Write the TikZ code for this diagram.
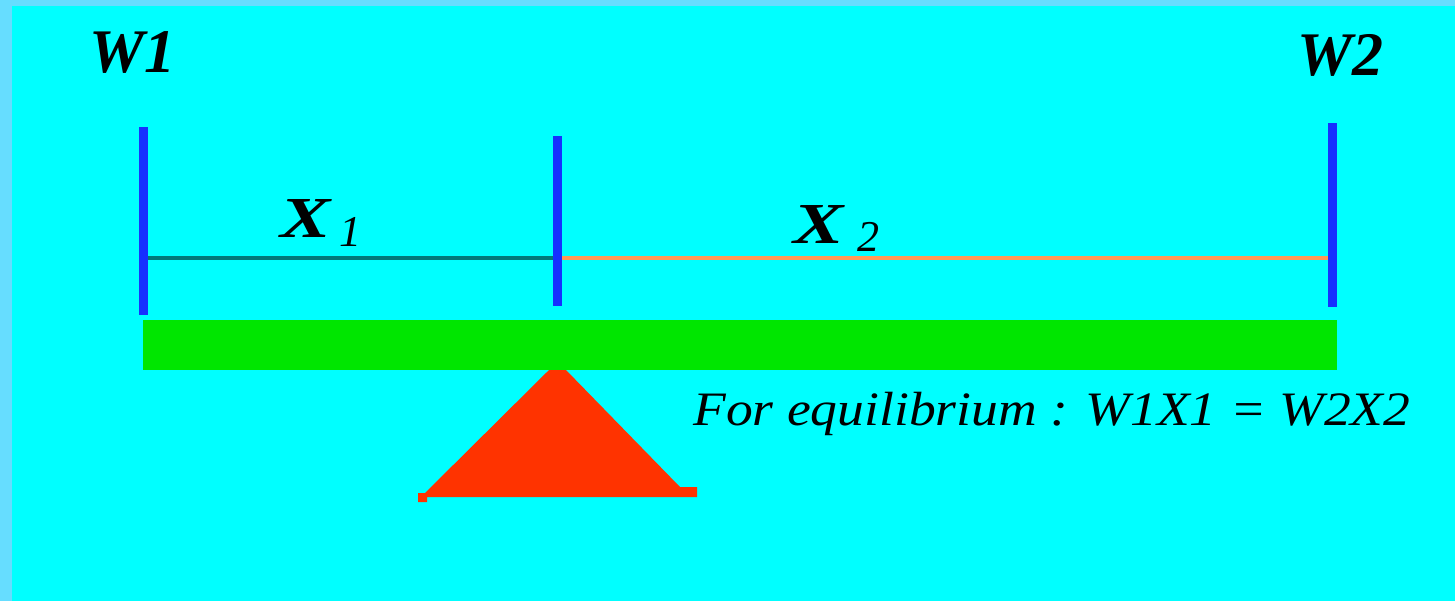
\documentclass[tikz,border=0pt]{standalone}
\usepackage{fontspec}
\setmainfont{Liberation Serif}
\definecolor{bgcyan}{HTML}{00FFFF}
\definecolor{edgeblue}{HTML}{66DDFF}
\definecolor{postblue}{HTML}{1630FF}
\definecolor{beamgreen}{HTML}{00E600}
\definecolor{fulcrumred}{HTML}{FF3300}
\definecolor{tealline}{HTML}{007A7A}
\definecolor{orangeline}{HTML}{FF9955}
\tikzset{
  post/.style={draw=postblue, line width=4.5pt},
  bigtxt/.style={font=\fontsize{31}{31}\selectfont\bfseries\itshape, inner sep=0pt, anchor=base west},
  symtxt/.style={font=\fontsize{29}{29}\selectfont\bfseries\itshape, inner sep=0pt, anchor=base west, xscale=1.3},
  subtxt/.style={font=\fontsize{22}{22}\selectfont\itshape, inner sep=0pt, anchor=base west},
  eqtxt/.style={font=\fontsize{24}{24}\selectfont\itshape, inner sep=0pt, anchor=base west, xscale=1.115}
}
\begin{document}
\begin{tikzpicture}[x=0.5pt,y=-0.5pt]
\useasboundingbox (0,0) rectangle (1455,601);
\fill[edgeblue] (0,0) rectangle (1455,601);
\fill[bgcyan] (12,6) rectangle (1455,601);
% posts
\coordinate (p1t) at (143,127); \coordinate (p1b) at (143,315);
\coordinate (p2t) at (557,136); \coordinate (p2b) at (557,306);
\coordinate (p3t) at (1332,123); \coordinate (p3b) at (1332,307);
\coordinate (m1) at (147,258); \coordinate (m2) at (553,258);
\coordinate (m3) at (562,258); \coordinate (m4) at (1330,258);
\draw[tealline, line width=1.6pt] (m1) -- (m2);
\draw[orangeline, line width=1.6pt] (m3) -- (m4);
\draw[post] (p1t) -- (p1b);
\draw[post] (p2t) -- (p2b);
\draw[post] (p3t) -- (p3b);
% beam
\fill[beamgreen] (143,320) rectangle (1337,370) node[pos=0.5] (beam) {};
% fulcrum
\fill[fulcrumred] (549,370) -- (566,370) -- (680,487) -- (697,487) -- (697,497) -- (427,497) -- (427,502) -- (418,502) -- (418,493) -- (425,493) -- cycle;
\node (fulcrum) at (557,440) {};
% labels
\node[bigtxt] (w1) at (89,72) {W1};
\node[bigtxt] (w2) at (1297,75) {W2};
\node[symtxt] (x1) at (280,237) {X};
\node[subtxt] (x1s) at (339,246) {1};
\node[symtxt] (x2) at (793,243) {X};
\node[subtxt] (x2s) at (857,251) {2};
\node[eqtxt] (eq) at (693,425) {For equilibrium : W1X1 = W2X2};
\end{tikzpicture}
\end{document}
